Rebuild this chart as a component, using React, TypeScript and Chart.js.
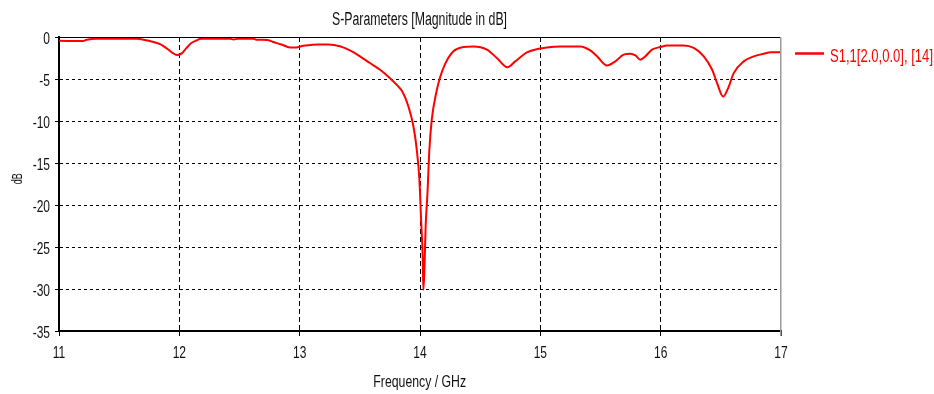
import React, { useEffect, useRef } from 'react';
import { Chart, registerables } from 'chart.js';

Chart.register(...registerables);

// ---- data ----
const freqGHz = [
  11.0, 11.2, 11.23, 11.31, 11.65, 11.7, 11.76, 11.84, 11.9, 11.94,
  11.98, 12.02, 12.06, 12.1, 12.14, 12.18, 12.42, 12.45, 12.49, 12.61,
  12.64, 12.73, 12.78, 12.85, 12.92, 12.97, 13.03, 13.09, 13.15, 13.24,
  13.335, 13.418, 13.501, 13.584, 13.668, 13.751, 13.807, 13.849, 13.876, 13.904,
  13.945, 13.973, 13.995, 14.009, 14.023, 14.028, 14.036, 14.047, 14.062, 14.078,
  14.098, 14.134, 14.167, 14.209, 14.278, 14.361, 14.444, 14.556, 14.639, 14.727,
  14.791, 14.889, 14.985, 15.055, 15.166, 15.332, 15.415, 15.471, 15.554, 15.623,
  15.692, 15.748, 15.79, 15.831, 15.873, 15.928, 15.997, 16.053, 16.191, 16.275,
  16.358, 16.428, 16.469, 16.519, 16.566, 16.607, 16.69, 16.774, 16.857, 16.913,
  17.0,
];
const s11dB = [
  -0.45, -0.48, -0.32, -0.2, -0.2, -0.32, -0.5, -0.84, -1.4, -1.85,
  -2.15, -1.95, -1.3, -0.72, -0.42, -0.22, -0.2, -0.3, -0.2, -0.2,
  -0.32, -0.35, -0.6, -0.9, -1.24, -1.24, -1.04, -0.95, -0.88, -0.88,
  -1.1, -1.6, -2.3, -3.1, -3.9, -4.9, -5.7, -6.4, -7.2, -8.3,
  -10.6, -13.4, -17.0, -21.7, -26.5, -30.1, -28.0, -22.5, -18.6, -13.4,
  -9.8, -6.7, -4.8, -3.2, -1.7, -1.2, -1.12, -1.5, -2.5, -3.6,
  -2.9, -1.83, -1.4, -1.24, -1.12, -1.12, -1.6, -2.3, -3.4, -2.9,
  -2.1, -2.0, -2.2, -2.7, -2.3, -1.5, -1.2, -1.0, -1.0, -1.3,
  -2.3, -3.9, -5.5, -7.1, -5.9, -4.3, -2.9, -2.3, -2.0, -1.83,
  -1.83,
];
const xTickValues = [11, 12, 13, 14, 15, 16, 17];
const yTickValues = [0, -5, -10, -15, -20, -25, -30, -35];
const chartTitle = 'S-Parameters [Magnitude in dB]';
const xAxisTitle = 'Frequency / GHz';
const yAxisTitle = 'dB';
const seriesLabel = 'S1,1[2.0,0.0], [14]';

const FONT = '"Liberation Sans", Arial, sans-serif';
const RED = '#ff0000';

function fitText(ctx: CanvasRenderingContext2D, text: string, x: number, y: number, size: number, width: number, align: CanvasTextAlign) {
  ctx.save();
  ctx.font = `${size}px ${FONT}`;
  const w = ctx.measureText(text).width || 1;
  ctx.translate(x, y);
  ctx.scale(width / w, 1);
  ctx.textAlign = align;
  ctx.textBaseline = 'alphabetic';
  ctx.fillText(text, 0, 0);
  ctx.restore();
}

function scaledText(ctx: CanvasRenderingContext2D, text: string, x: number, y: number, size: number, sx: number, align: CanvasTextAlign) {
  ctx.save();
  ctx.font = `${size}px ${FONT}`;
  ctx.translate(x, y);
  ctx.scale(sx, 1);
  ctx.textAlign = align;
  ctx.textBaseline = 'alphabetic';
  ctx.fillText(text, 0, 0);
  ctx.restore();
}

const cstPlugin = {
  id: 'cstDecor',
  afterDraw(chart: any) {
    const ctx: CanvasRenderingContext2D = chart.ctx;
    const { left, right, top, bottom } = chart.chartArea;
    ctx.save();
    // top frame line (0 dB) and right frame line
    ctx.strokeStyle = '#000';
    ctx.lineWidth = 1;
    ctx.beginPath();
    ctx.moveTo(left, top + 0.5);
    ctx.lineTo(right, top + 0.5);
    ctx.stroke();
    ctx.strokeStyle = '#9a9a9a';
    ctx.lineWidth = 1.5;
    ctx.beginPath();
    ctx.moveTo(right - 0.25, top);
    ctx.lineTo(right - 0.25, bottom + 5);
    ctx.stroke();

    ctx.fillStyle = '#111';
    // tick labels from the library's scales
    const xs = chart.scales.x;
    xs.ticks.forEach((t: any) => {
      const px = xs.getPixelForValue(t.value);
      scaledText(ctx, String(t.label), px, 357.5, 16, 0.75, 'center');
    });
    const ys = chart.scales.y;
    ys.ticks.forEach((t: any) => {
      const py = ys.getPixelForValue(t.value);
      scaledText(ctx, String(t.label), 50, py + 7, 16, 0.75, 'right');
    });

    // titles
    fitText(ctx, chartTitle, 419.5, 25, 18, 175, 'center');
    fitText(ctx, xAxisTitle, 419.7, 386.5, 16, 92.7, 'center');
    ctx.save();
    ctx.translate(21.7, 178.8);
    ctx.rotate(-Math.PI / 2);
    fitText(ctx, yAxisTitle, 0, 0, 14, 11, 'center');
    ctx.restore();

    // legend
    const ds = chart.data.datasets[0];
    ctx.strokeStyle = ds.borderColor;
    ctx.lineWidth = 2.5;
    ctx.beginPath();
    ctx.moveTo(795, 53.5);
    ctx.lineTo(824, 53.5);
    ctx.stroke();
    ctx.fillStyle = ds.borderColor;
    fitText(ctx, ds.label, 830, 61.5, 18, 103, 'left');
    ctx.restore();
  },
};

export default function App() {
  const ref = useRef<HTMLCanvasElement | null>(null);

  useEffect(() => {
    if (!ref.current) return;
    const points = freqGHz.map((f, i) => ({ x: f, y: s11dB[i] }));
    const chart = new Chart(ref.current, {
      type: 'line',
      data: {
        datasets: [
          {
            label: seriesLabel,
            data: points,
            borderColor: RED,
            backgroundColor: RED,
            borderWidth: 2,
            pointRadius: 0,
            cubicInterpolationMode: 'monotone',
            fill: false,
          },
        ],
      },
      options: {
        animation: false,
        responsive: false,
        devicePixelRatio: 1,
        events: [],
        layout: { padding: { top: 37, right: 153, left: 0, bottom: 0 } },
        plugins: {
          legend: { display: false },
          title: { display: false },
          tooltip: { enabled: false },
        },
        scales: {
          x: {
            type: 'linear',
            min: 11,
            max: 17,
            afterBuildTicks: (s: any) => {
              s.ticks = xTickValues.map((v) => ({ value: v }));
            },
            afterFit: (s: any) => {
              s.height = 63;
            },
            ticks: { display: false },
            grid: {
              color: (c: any) =>
                c.tick && (c.tick.value === 11 || c.tick.value === 17) ? 'rgba(0,0,0,0)' : '#000',
              lineWidth: 1,
              drawTicks: true,
              tickLength: 5,
              tickColor: '#000',
              tickWidth: 1,
            },
            border: { display: true, color: '#000', width: 2, dash: [5, 3] },
          },
          y: {
            type: 'linear',
            min: -35,
            max: 0,
            afterBuildTicks: (s: any) => {
              s.ticks = yTickValues.map((v) => ({ value: v }));
            },
            afterFit: (s: any) => {
              s.width = 59;
            },
            ticks: { display: false },
            grid: {
              color: (c: any) =>
                c.tick && (c.tick.value === 0 || c.tick.value === -35) ? 'rgba(0,0,0,0)' : '#000',
              lineWidth: 1,
              drawTicks: true,
              tickLength: 4,
              tickColor: '#000',
              tickWidth: 1,
            },
            border: { display: true, color: '#000', width: 2, dash: [3, 3] },
          },
        },
      },
      plugins: [cstPlugin],
    } as any);
    return () => chart.destroy();
  }, []);

  return (
    <div style={{ position: 'fixed', left: 0, top: 0, width: 934, height: 394, background: '#fff' }}>
      <canvas ref={ref} width={934} height={394} style={{ display: 'block', width: 934, height: 394 }} />
    </div>
  );
}
